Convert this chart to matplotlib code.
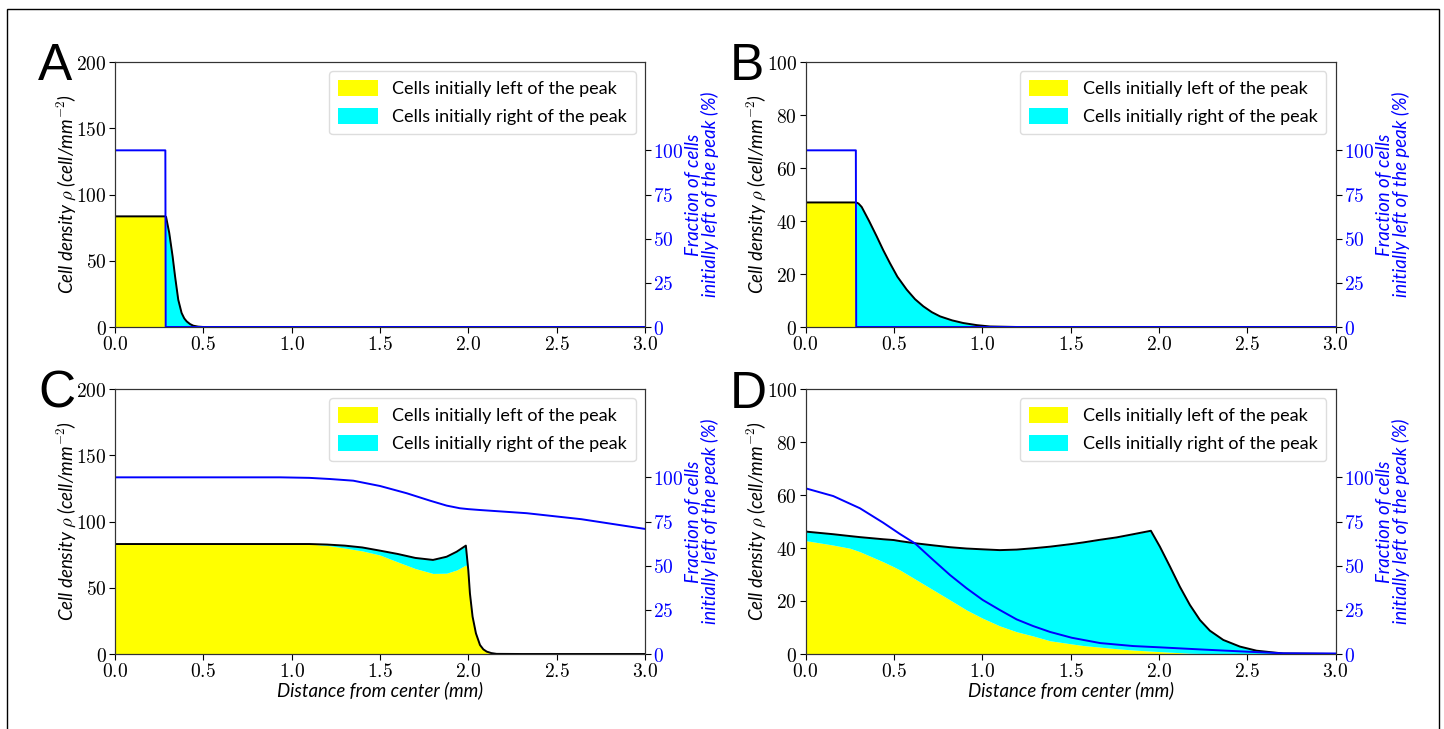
import numpy as np
import matplotlib
matplotlib.use("Agg")
import matplotlib.pyplot as plt
from matplotlib.patches import Patch, Rectangle

plt.rcParams['mathtext.fontset'] = 'cm'
plt.rcParams['font.family'] = ['Lato', 'DejaVu Sans']

# ---------------- data ----------------
# Panel A
xA = [0.0, 0.285, 0.287, 0.289, 0.307, 0.326, 0.340, 0.358, 0.377, 0.392, 0.406, 0.425,
      0.443, 0.47, 0.5, 3.0]
totalA = [83.5, 83.5, 83.3, 83.1, 71.0, 53.4, 38.2, 20.6, 10.6, 6.5, 4.2, 2.2,
          1.0, 0.3, 0.0, 0.0]
yellowA = [83.5, 83.5, 0, 0, 0, 0, 0, 0, 0, 0, 0, 0, 0, 0, 0, 0]
xA_frac = [0.0, 0.285, 0.287, 3.0]
fracA = [100, 100, 0, 0]

# Panel B
xB = [0.0, 0.285, 0.287, 0.30, 0.318, 0.36, 0.403, 0.44, 0.478, 0.52, 0.573, 0.62,
      0.667, 0.715, 0.762, 0.83, 0.893, 0.97, 1.044, 1.2, 3.0]
totalB = [47.0, 47.0, 47.0, 46.6, 45.3, 40.0, 34.2, 29.0, 24.1, 19.0, 14.1, 10.5,
          7.8, 5.6, 4.0, 2.5, 1.5, 0.7, 0.2, 0.0, 0.0]
yellowB = [47.0, 47.0, 0, 0, 0, 0, 0, 0, 0, 0, 0, 0, 0, 0, 0, 0, 0, 0, 0, 0, 0]
xB_frac = [0.0, 0.285, 0.287, 3.0]
fracB = [100, 100, 0, 0]

# Panel C
xC = [0.0, 1.0, 1.1, 1.2, 1.3, 1.4, 1.5, 1.6, 1.7, 1.8, 1.877, 1.934, 1.986, 2.0,
      2.009, 2.024, 2.043, 2.066, 2.085, 2.104, 2.13, 2.16, 2.3, 3.0]
totalC = [83.0, 83.0, 83.0, 82.6, 81.8, 80.4, 78.0, 75.5, 72.5, 71.0, 73.4, 77.2, 81.8, 63.0,
          45.8, 28.2, 15.6, 6.8, 3.5, 1.8, 0.7, 0.1, 0.0, 0.0]
yellowC = [83.0, 83.0, 83.0, 82.0, 80.0, 77.8, 74.7, 69.5, 64.5, 60.8, 61.0, 63.4, 67.2, 62.0,
           45.5, 28.0, 15.5, 6.7, 3.4, 1.8, 0.7, 0.1, 0.0, 0.0]
xC_frac = [0.0, 0.934, 1.1, 1.217, 1.349, 1.5, 1.651, 1.783, 1.877, 1.952, 2.0, 2.066,
           2.33, 2.64, 3.0]
fracC = [100, 100, 99.7, 99.05, 98.1, 95.1, 91.0, 86.8, 84.0, 82.5, 82.0, 81.5,
         79.7, 76.3, 70.8]

# Panel D
xD = [0.0, 0.157, 0.252, 0.308, 0.44, 0.5, 0.535, 0.62, 0.723, 0.818, 0.912, 1.003, 1.1,
      1.195, 1.289, 1.384, 1.507, 1.572, 1.667, 1.761, 1.855, 1.955, 2.006, 2.063, 2.119,
      2.176, 2.233, 2.289, 2.365, 2.459, 2.553, 2.704, 3.0]
totalD = [46.2, 45.2, 44.5, 44.1, 43.3, 43.0, 42.6, 41.8, 41.0, 40.3, 39.8, 39.5, 39.2,
          39.4, 39.9, 40.5, 41.5, 42.1, 43.1, 44.0, 45.2, 46.5, 40.5, 33.0, 25.4,
          18.5, 12.8, 8.8, 5.3, 2.8, 1.25, 0.2, 0.0]
yellowD = [42.8, 41.1, 39.9, 38.6, 34.8, 32.9, 31.7, 28.3, 24.2, 20.4, 16.6, 13.5, 10.6,
           8.4, 6.8, 5.0, 3.8, 3.2, 2.6, 2.0, 1.5, 1.1, 0.9, 0.7, 0.5,
           0.3, 0.2, 0.15, 0.1, 0.05, 0.03, 0.01, 0.0]
xD_frac = [0.0, 0.157, 0.308, 0.44, 0.535, 0.62, 0.723, 0.818, 0.912, 1.003, 1.1, 1.195,
           1.289, 1.384, 1.507, 1.667, 1.855, 2.0, 2.233, 2.5, 2.704, 3.0]
fracD = [93.8, 89.4, 82.5, 74.3, 67.9, 62.6, 53.2, 44.7, 37.2, 30.6, 24.9, 19.6,
         15.8, 12.5, 9.2, 6.2, 4.5, 3.8, 2.6, 1.3, 0.4, 0.3]

x_ticks = [0.0, 0.5, 1.0, 1.5, 2.0, 2.5, 3.0]
left_ticks_200 = [0, 50, 100, 150, 200]
left_ticks_100 = [0, 20, 40, 60, 80, 100]
right_ticks = [0, 25, 50, 75, 100]

legend_labels = ["Cells initially left of the peak", "Cells initially right of the peak"]
ylabel_left = r"Cell density $\rho$ (cell/mm$^{-2}$)"
ylabel_right = "Fraction of cells\ninitially left of the peak (%)"
xlabel = "Distance from center (mm)"
panel_letters = ["A", "B", "C", "D"]

panels = [
    (xA, totalA, yellowA, xA_frac, fracA, 200, left_ticks_200),
    (xB, totalB, yellowB, xB_frac, fracB, 100, left_ticks_100),
    (xC, totalC, yellowC, xC_frac, fracC, 200, left_ticks_200),
    (xD, totalD, yellowD, xD_frac, fracD, 100, left_ticks_100),
]

# ---------------- figure ----------------
W, H = 1444, 729
fig = plt.figure(figsize=(W / 100, H / 100), dpi=100)

# border frame
fig.patches.append(Rectangle((7 / W, -0.02), (1439 - 7) / W, 1.02 - 9 / H,
                             transform=fig.transFigure, fill=False,
                             edgecolor='black', linewidth=1.0))

lefts = [115, 805.5, 115, 805.5]
tops = [62, 62, 389, 389]
aw, ah = 530, 265
letter_pos = [(38, 80), (730, 80), (38, 408), (730, 408)]
LABEL_FS = 13.4


def math_label(v, fmt):
    return "$" + (fmt % v) + "$"


for i, (x, tot, yel, xf, fr, ymax, lticks) in enumerate(panels):
    l, t = lefts[i], tops[i]
    ax = fig.add_axes([l / W, 1 - (t + ah) / H, aw / W, ah / H])
    ax.fill_between(x, 0, yel, color='yellow', linewidth=0)
    ax.fill_between(x, yel, tot, color='cyan', linewidth=0)
    ax.plot(x, tot, color='black', linewidth=1.4)
    ax.set_xlim(0, 3)
    ax.set_ylim(0, ymax)
    ax.set_xticks(x_ticks)
    ax.set_xticklabels([math_label(v, "%.1f") for v in x_ticks], fontsize=14)
    ax.set_yticks(lticks)
    ax.set_yticklabels([math_label(v, "%d") for v in lticks], fontsize=14)
    ax.tick_params(axis='both', length=4, pad=2)
    ax.set_ylabel(ylabel_left, fontsize=LABEL_FS, fontstyle='italic', labelpad=-1)
    if i >= 2:
        ax.set_xlabel(xlabel, fontsize=LABEL_FS, fontstyle='italic', labelpad=1)
    for s in ax.spines.values():
        s.set_color('#333333')

    ax2 = ax.twinx()
    ax2.plot(xf, fr, color='blue', linewidth=1.4)
    ax2.set_ylim(0, 150)
    ax2.set_yticks(right_ticks)
    ax2.set_yticklabels([math_label(v, "%d") for v in right_ticks], fontsize=14, color='blue')
    ax2.tick_params(axis='y', length=4, pad=2)
    ax2.set_ylabel(ylabel_right, fontsize=LABEL_FS, fontstyle='italic', color='blue',
                   rotation=90, labelpad=1, multialignment='center', linespacing=0.95)
    ax2.set_xlim(0, 3)
    for s in ax2.spines.values():
        s.set_color('#333333')

    handles = [Patch(facecolor='yellow', edgecolor='none'),
               Patch(facecolor='cyan', edgecolor='none')]
    ax2.legend(handles, legend_labels, loc='upper right', fontsize=13,
               handlelength=2.2, handleheight=1.0, framealpha=1.0,
               edgecolor='#dddddd', borderpad=0.5, labelspacing=0.6)

    lx, ly = letter_pos[i]
    fig.text(lx / W, 1 - ly / H, panel_letters[i], fontsize=37,
             family=['Liberation Sans', 'DejaVu Sans'], va='baseline', ha='left')

fig.savefig("out.png", dpi=100)
